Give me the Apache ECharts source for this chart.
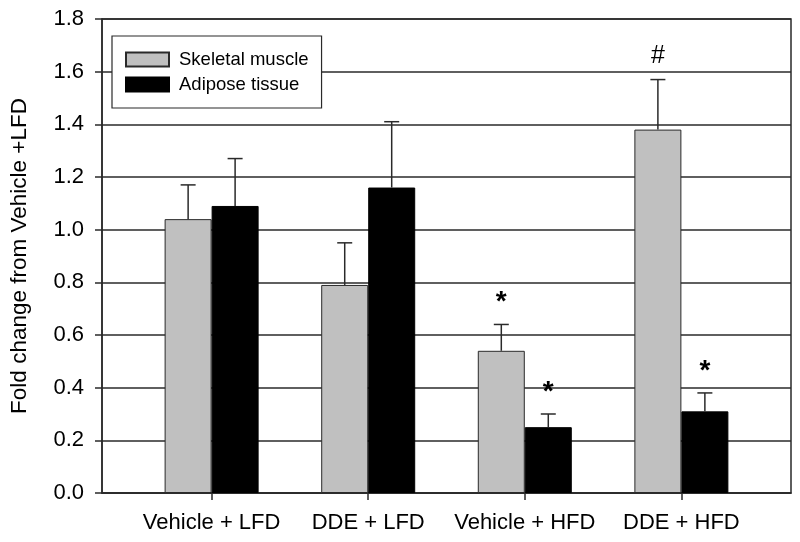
<!DOCTYPE html>
<html>
<head>
<meta charset="utf-8">
<script src="https://cdn.jsdelivr.net/npm/echarts@6/dist/echarts.min.js"></script>
<style>
html,body{margin:0;padding:0;background:#fff;}
#chart{width:800px;height:542px;}
</style>
</head>
<body>
<div id="chart"></div>
<script>
const categories = ['Vehicle + LFD', 'DDE + LFD', 'Vehicle + HFD', 'DDE + HFD'];
const seriesNames = ['Skeletal muscle', 'Adipose tissue'];
const muscle = [1.04, 0.79, 0.54, 1.38];
const muscleErr = [0.13, 0.16, 0.10, 0.19];
const muscleMarks = ['', '', '*', '#'];
const adipose = [1.09, 1.16, 0.25, 0.31];
const adiposeErr = [0.18, 0.25, 0.05, 0.07];
const adiposeMarks = ['', '', '*', '*'];

const FONT = 'Liberation Sans, Arial, sans-serif';
const positions = categories.map((c, i) => i + 1);

function barData(vals) { return vals.map((v, i) => [positions[i], v]); }
function errData(vals, errs, marks) { return vals.map((v, i) => [positions[i], v, errs[i], marks[i]]); }

function errRenderer(side) {
  return function (params, api) {
    const x = api.value(0) + side * 0.15;
    const y = api.value(1);
    const e = api.value(2);
    const mark = api.value(3);
    const p0 = api.coord([x, y]);
    const p1 = api.coord([x, y + e]);
    const style = { stroke: '#2a2a2a', lineWidth: 1.5 };
    const children = [
      { type: 'line', shape: { x1: p0[0], y1: p0[1], x2: p1[0], y2: p1[1] }, style },
      { type: 'line', shape: { x1: p1[0] - 7.5, y1: p1[1], x2: p1[0] + 7.5, y2: p1[1] }, style }
    ];
    if (mark && mark !== '') {
      const isHash = mark === '#';
      children.push({
        type: 'text',
        style: {
          text: mark,
          x: p1[0],
          y: p1[1] - (isHash ? 23 : 22),
          align: 'center',
          verticalAlign: 'middle',
          fill: '#000',
          font: (isHash ? 'normal 25px ' : 'bold 28px ') + FONT
        }
      });
    }
    return { type: 'group', children };
  };
}

const chart = echarts.init(document.getElementById('chart'), null, { renderer: 'canvas' });
chart.setOption({
  backgroundColor: '#fff',
  animation: false,
  grid: {
    left: 98, right: 9, top: 19, bottom: 49,
    show: true, borderColor: '#2a2a2a', borderWidth: 1.5, backgroundColor: 'transparent'
  },
  legend: {
    data: seriesNames,
    orient: 'vertical',
    left: 112, top: 36,
    backgroundColor: '#fff',
    borderColor: '#2a2a2a', borderWidth: 1.2,
    padding: [14, 13, 14, 13],
    itemWidth: 43, itemHeight: 14, itemGap: 6,
    icon: 'rect',
    textStyle: { fontFamily: FONT, fontSize: 18.5, color: '#000', lineHeight: 18, padding: [0, 0, 0, 5] }
  },
  xAxis: {
    type: 'value',
    min: 0.3, max: 4.7,
    splitLine: { show: false },
    axisLine: { show: true, lineStyle: { color: '#2a2a2a', width: 1.5 } },
    axisTick: { show: true, customValues: positions, length: 7, lineStyle: { color: '#2a2a2a', width: 1.5 } },
    axisLabel: {
      customValues: positions,
      formatter: v => categories[Math.round(v) - 1] || '',
      fontFamily: FONT, fontSize: 22, color: '#000', margin: 19
    }
  },
  yAxis: {
    type: 'value',
    min: 0, max: 1.8, interval: 0.2,
    name: 'Fold change from Vehicle +LFD',
    nameLocation: 'middle',
    nameGap: 71,
    nameTextStyle: { fontFamily: FONT, fontSize: 22.5, color: '#000' },
    axisLine: { show: true, lineStyle: { color: '#2a2a2a', width: 1.5 } },
    axisTick: { show: true, length: 7, lineStyle: { color: '#2a2a2a', width: 1.5 } },
    axisLabel: {
      formatter: v => v.toFixed(1),
      fontFamily: FONT, fontSize: 22, color: '#000', margin: 18
    },
    splitLine: { show: true, lineStyle: { color: '#2a2a2a', width: 1.5 } }
  },
  series: [
    {
      name: seriesNames[0], type: 'bar', data: barData(muscle),
      barWidth: 47, barGap: '0%',
      itemStyle: { color: '#c0c0c0', borderColor: '#2a2a2a', borderWidth: 1 }
    },
    {
      name: seriesNames[1], type: 'bar', data: barData(adipose),
      barWidth: 47, barGap: '0%',
      itemStyle: { color: '#000', borderColor: '#000', borderWidth: 1 }
    },
    {
      type: 'custom', name: 'muscleErr', renderItem: errRenderer(-1),
      data: errData(muscle, muscleErr, muscleMarks), z: 5, silent: true
    },
    {
      type: 'custom', name: 'adiposeErr', renderItem: errRenderer(1),
      data: errData(adipose, adiposeErr, adiposeMarks), z: 5, silent: true
    }
  ]
});
</script>
</body>
</html>
